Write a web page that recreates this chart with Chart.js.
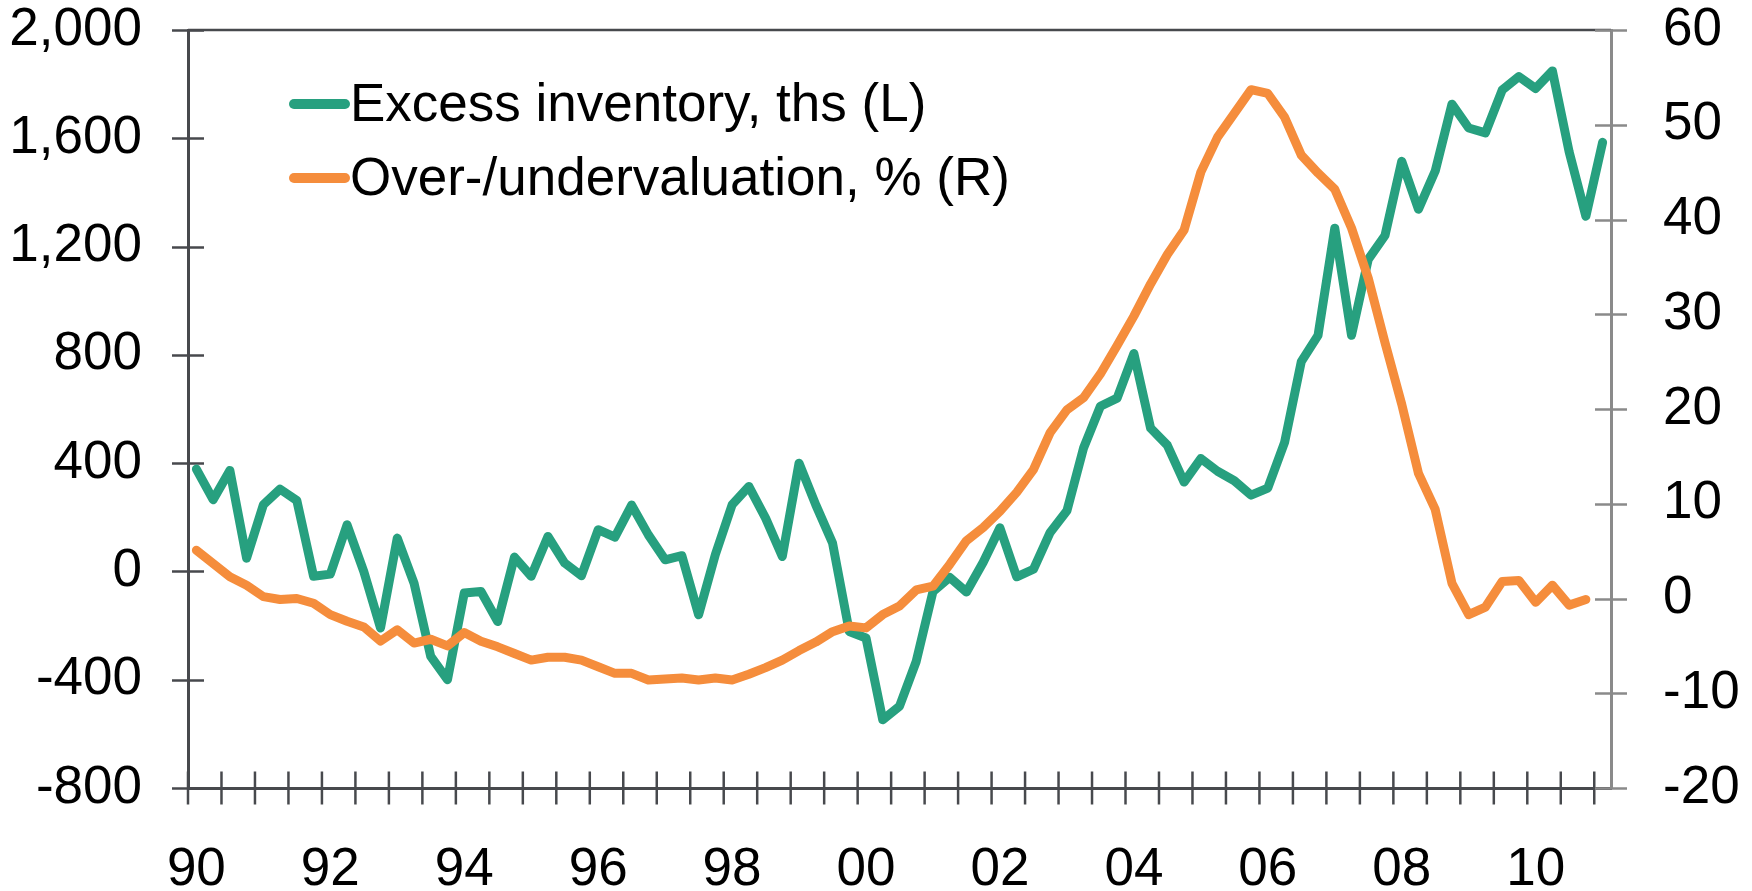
<!DOCTYPE html>
<html>
<head>
<meta charset="utf-8">
<script src="https://cdn.jsdelivr.net/npm/chart.js@4.4.1/dist/chart.umd.min.js"></script>
<style>
html,body{margin:0;padding:0;background:#fff;}
#wrap{position:relative;width:1752px;height:891px;overflow:hidden;background:#fff;}
#c{position:absolute;left:0;top:0;}
.lg{position:absolute;font-family:'Liberation Sans',Arial,sans-serif;font-size:53px;line-height:53px;color:#000;white-space:nowrap;}
.sw{position:absolute;height:10px;border-radius:5px;}
</style>
</head>
<body>
<div id="wrap">
<canvas id="c" width="1752" height="891"></canvas>
<div class="sw" id="sw0"></div><div class="lg" id="lg0"></div>
<div class="sw" id="sw1"></div><div class="lg" id="lg1"></div>
</div>
<script>
// ---- data ----
const categories = [
 '1990Q1','1990Q2','1990Q3','1990Q4','1991Q1','1991Q2','1991Q3','1991Q4',
 '1992Q1','1992Q2','1992Q3','1992Q4','1993Q1','1993Q2','1993Q3','1993Q4',
 '1994Q1','1994Q2','1994Q3','1994Q4','1995Q1','1995Q2','1995Q3','1995Q4',
 '1996Q1','1996Q2','1996Q3','1996Q4','1997Q1','1997Q2','1997Q3','1997Q4',
 '1998Q1','1998Q2','1998Q3','1998Q4','1999Q1','1999Q2','1999Q3','1999Q4',
 '2000Q1','2000Q2','2000Q3','2000Q4','2001Q1','2001Q2','2001Q3','2001Q4',
 '2002Q1','2002Q2','2002Q3','2002Q4','2003Q1','2003Q2','2003Q3','2003Q4',
 '2004Q1','2004Q2','2004Q3','2004Q4','2005Q1','2005Q2','2005Q3','2005Q4',
 '2006Q1','2006Q2','2006Q3','2006Q4','2007Q1','2007Q2','2007Q3','2007Q4',
 '2008Q1','2008Q2','2008Q3','2008Q4','2009Q1','2009Q2','2009Q3','2009Q4',
 '2010Q1','2010Q2','2010Q3','2010Q4','2011Q1'
];
const xTickLabels = ['90','92','94','96','98','00','02','04','06','08','10'];
const leftTicks = [-800,-400,0,400,800,1200,1600,2000];
const rightTicks = [-20,-10,0,10,20,30,40,50,60];
const seriesNames = ['Excess inventory, ths (L)','Over-/undervaluation, % (R)'];

const excessInventory = [
 378,265,373,49,246,304,262,-18,
 -10,172,0,-209,123,-43,-314,-400,
 -80,-74,-185,53,-18,129,31,-16,
 154,127,245,135,43,58,-160,62,
 246,314,197,55,400,246,105,-222,
 -246,-548,-498,-332,-74,-22,-76,34,
 161,-20,8,144,224,457,610,640,
 805,529,466,330,417,370,335,282,
 308,476,775,872,1268,872,1153,1241,
 1515,1338,1479,1726,1638,1620,1778,1828,
 1784,1849,1550,1312,1585
];
const overvaluation = [
 5.1,3.7,2.3,1.4,0.2,-0.1,0.0,-0.5,
 -1.7,-2.4,-3.0,-4.5,-3.3,-4.7,-4.3,-5.0,
 -3.6,-4.5,-5.1,-5.8,-6.5,-6.2,-6.2,-6.5,
 -7.2,-7.9,-7.9,-8.6,-8.5,-8.4,-8.6,-8.4,
 -8.6,-8.0,-7.3,-6.5,-5.5,-4.6,-3.5,-2.9,
 -3.1,-1.7,-0.8,0.9,1.3,3.6,6.1,7.5,
 9.2,11.2,13.6,17.5,19.9,21.2,23.7,26.7,
 29.8,33.2,36.3,38.9,45.0,48.7,51.2,53.7,
 53.3,50.8,46.8,44.9,43.2,39.1,33.8,27.0,
 20.5,13.2,9.4,1.6,-1.7,-0.9,1.8,1.9,
 -0.4,1.4,-0.7,-0.1
];

// ---- style ----
const GREEN = '#27a07f';
const ORANGE = '#f58d3c';
const DARK = '#47494d';
const GRAY = '#8a8a8a';
const FONT = {family: "'Liberation Sans', Arial, sans-serif", size: 53, lineHeight: 1};

// legend (HTML text)
const swatches = [GREEN, ORANGE];
const rowY = [104, 178];
for (let i = 0; i < 2; i++) {
  const sw = document.getElementById('sw' + i);
  sw.style.left = '289px'; sw.style.width = '61px';
  sw.style.top = (rowY[i] - 5) + 'px';
  sw.style.background = swatches[i];
  const lg = document.getElementById('lg' + i);
  lg.textContent = seriesNames[i];
  lg.style.left = '350px';
  lg.style.top = (rowY[i] - 28) + 'px';
}

const axisDecor = {
  id: 'axisDecor',
  beforeDatasetsDraw(chart) {
    const {ctx, chartArea: ca, scales} = chart;
    const x = scales.x, yL = scales.yL, yR = scales.yR;
    const seg = (x1, y1, x2, y2) => { ctx.beginPath(); ctx.moveTo(x1, y1); ctx.lineTo(x2, y2); ctx.stroke(); };
    ctx.save();
    ctx.lineCap = 'butt';
    ctx.strokeStyle = DARK; ctx.lineWidth = 2.5;
    seg(ca.left, ca.top, ca.right, ca.top);
    yL.ticks.forEach(t => { const y = Math.round(yL.getPixelForValue(t.value)) + 0.5; seg(ca.left - 16, y, ca.left + 16, y); });
    const w = x.getPixelForValue(1) - x.getPixelForValue(0);
    for (let k = 0; k < categories.length; k += 2) {
      const px = x.getPixelForValue(k) - w / 2;
      seg(px, ca.bottom - 16.5, px, ca.bottom + 16.5);
    }
    ctx.strokeStyle = GRAY;
    yR.ticks.forEach(t => { const y = Math.round(yR.getPixelForValue(t.value)) + 0.5; seg(ca.right - 16, y, ca.right + 16, y); });
    ctx.restore();
  }
};

const noPad = s => { s.paddingTop = 0; s.paddingBottom = 0; s.paddingLeft = 0; s.paddingRight = 0; };

new Chart(document.getElementById('c'), {
  type: 'line',
  data: {
    labels: categories,
    datasets: [
      {label: seriesNames[0], data: excessInventory, yAxisID: 'yL', borderColor: GREEN, backgroundColor: GREEN,
       borderWidth: 9, pointRadius: 0, tension: 0, borderJoinStyle: 'round', borderCapStyle: 'round', order: 1},
      {label: seriesNames[1], data: overvaluation, yAxisID: 'yR', borderColor: ORANGE, backgroundColor: ORANGE,
       borderWidth: 9, pointRadius: 0, tension: 0, borderJoinStyle: 'round', borderCapStyle: 'round', order: 0}
    ]
  },
  options: {
    responsive: false,
    devicePixelRatio: 1,
    animation: false,
    layout: {padding: {top: 30, left: 0, right: 0, bottom: 0}},
    plugins: {legend: {display: false}, tooltip: {enabled: false}},
    events: [],
    scales: {
      x: {
        type: 'category', position: 'bottom', offset: true,
        grid: {display: false, drawTicks: false},
        border: {display: true, color: DARK, width: 3},
        ticks: {
          autoSkip: false, maxRotation: 0, minRotation: 0, padding: 56, color: '#000', font: FONT,
          callback: (v, i) => (i % 8 === 0 ? xTickLabels[i / 8] : '')
        },
        afterFit: s => { s.height = 103; noPad(s); }
      },
      yL: {
        type: 'linear', position: 'left', min: -800, max: 2000,
        afterBuildTicks: s => { s.ticks = leftTicks.map(v => ({value: v})); },
        grid: {display: false, drawTicks: false},
        border: {display: true, color: DARK, width: 3},
        ticks: {padding: 46, color: '#000', font: FONT, callback: v => Number(v).toLocaleString('en-US')},
        afterFit: s => { s.width = 188; noPad(s); }
      },
      yR: {
        type: 'linear', position: 'right', min: -20, max: 60,
        afterBuildTicks: s => { s.ticks = rightTicks.map(v => ({value: v})); },
        grid: {display: false, drawTicks: false},
        border: {display: true, color: GRAY, width: 3},
        ticks: {padding: 52, color: '#000', font: FONT, callback: v => String(v)},
        afterFit: s => { s.width = 141; noPad(s); }
      }
    }
  },
  plugins: [axisDecor]
});
</script>
</body>
</html>
